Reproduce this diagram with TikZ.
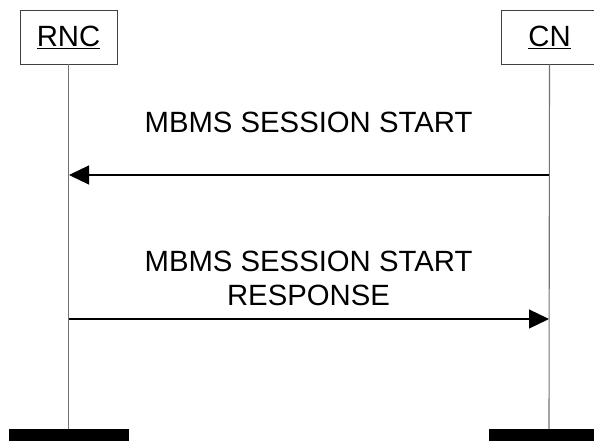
\documentclass[tikz,border=0pt]{standalone}
\usepackage{fontspec}
\setmainfont{Liberation Sans}
\usetikzlibrary{arrows.meta}
\begin{document}
\begin{tikzpicture}[x=1pt,y=-1pt,
  entity/.style={draw=black!75,line width=0.9pt,fill=white,minimum width=97pt,minimum height=54pt,inner sep=0pt,font=\fontsize{29.3}{31}\selectfont},
  lifeline/.style={draw=black!55,line width=1.1pt},
  endbar/.style={fill=black,draw=none,minimum width=120pt,minimum height=16pt,inner sep=0pt},
  msg/.style={line width=1.2pt,-{Triangle[length=20pt,width=19pt]}},
  lbl/.style={font=\fontsize{29.3}{27}\selectfont,align=center,inner sep=0pt}]
\useasboundingbox (0,0) rectangle (594,441);
\node[entity] (rnc) at (68.5,37) {\underline{RNC}};
\node[entity] (cn) at (549.5,37) {\underline{CN}};
\node[endbar,anchor=north] (rncbar) at (68.5,429) {};
\node[endbar,anchor=north] (cnbar) at (549,429) {};
\draw[lifeline] (rnc.south) -- (rncbar.north);
\draw[lifeline] (cn.south) -- (cnbar.north);
\coordinate (a1s) at (549,175);
\coordinate (a1e) at (69,175);
\coordinate (a2s) at (69,319);
\coordinate (a2e) at (549,319);
\draw[msg] (a1s) -- (a1e);
\draw[msg] (a2s) -- (a2e);
\node[lbl,anchor=base] (l1) at (308.5,132) {MBMS SESSION START};
\node[lbl,anchor=base] (l2) at (308.5,271) {MBMS SESSION START};
\node[lbl,anchor=base] (l3) at (308.5,305) {RESPONSE};
\end{tikzpicture}
\end{document}
